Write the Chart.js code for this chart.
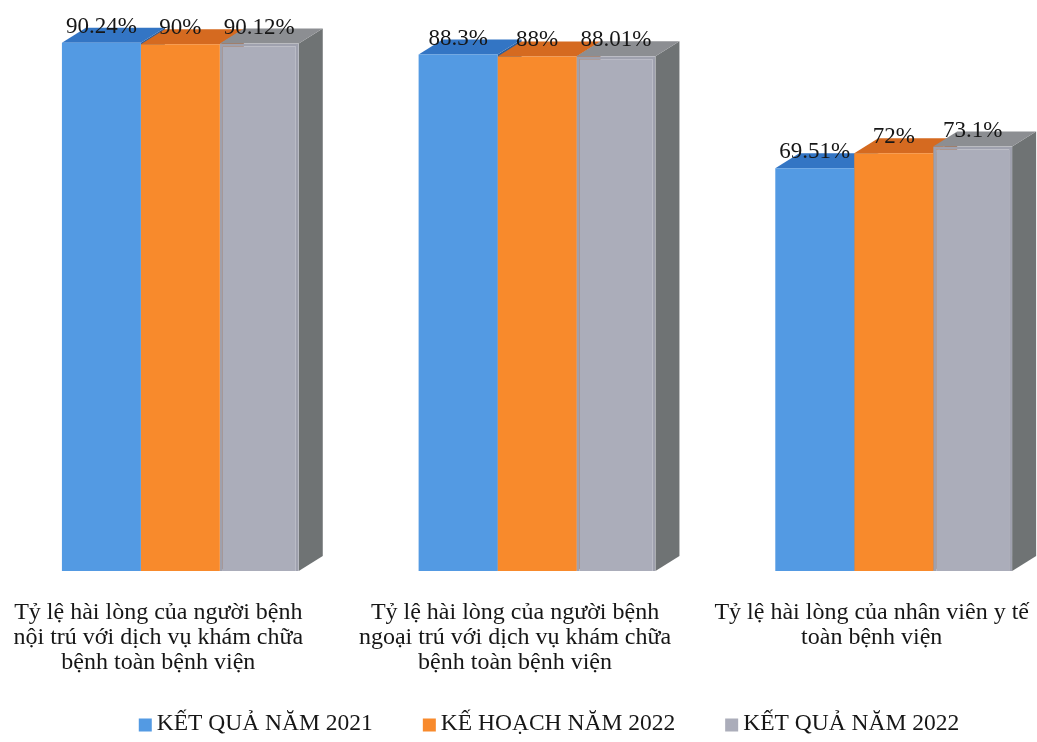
<!DOCTYPE html>
<html>
<head>
<meta charset="utf-8">
<title>Tỷ lệ hài lòng</title>
<script src="https://cdn.jsdelivr.net/npm/chart.js@4.4.1/dist/chart.umd.min.js"></script>
<style>
  html, body { margin: 0; padding: 0; background: #ffffff; overflow: hidden; }
  #wrap { width: 1037px; height: 742px; overflow: hidden; }
  #chart { display: block; }
</style>
</head>
<body>
<div id="wrap"><canvas id="chart" width="1080" height="742"></canvas></div>
<script>
// Category labels (one array of lines per group)
const categories = [
  ['Tỷ lệ hài lòng của người bệnh', 'nội trú với dịch vụ khám chữa', 'bệnh toàn bệnh viện'],
  ['Tỷ lệ hài lòng của người bệnh', 'ngoại trú với dịch vụ khám chữa', 'bệnh toàn bệnh viện'],
  ['Tỷ lệ hài lòng của nhân viên y tế', 'toàn bệnh viện']
];
const seriesNames = ['KẾT QUẢ NĂM 2021', 'KẾ HOẠCH NĂM 2022', 'KẾT QUẢ NĂM 2022'];
const ketQua2021 = [90.24, 88.3, 69.51];
const keHoach2022 = [90, 88, 72];
const ketQua2022 = [90.12, 88.01, 73.1];

// value axis floor / ceiling (axis itself is hidden)
const axisFloor = 3;
const axisCeil = 95;

const FONT = '"Liberation Serif", "Times New Roman", serif';
const TEXT = '#161616';
const frontColors = ['#539ae3', '#f88a2c', '#abadba'];
const topColors   = ['#3375c4', '#d56a20', '#8c8e92'];
const sideColors  = ['#2a5f9e', '#b75a1a', '#6f7374'];
const DX = 24, DY = 15;

function barGeom(el) {
  const p = el.getProps(['x', 'y', 'width', 'base'], true);
  return { l: p.x - p.width / 2, r: p.x + p.width / 2, x: p.x, y: p.y, base: p.base };
}

// Extruded look: side walls first, then top faces; the library paints the fronts afterwards
const extrude = {
  id: 'extrude',
  beforeDatasetsDraw(chart) {
    const ctx = chart.ctx;
    const metas = chart.data.datasets.map((d, i) => chart.getDatasetMeta(i));
    ctx.save();
    metas.forEach((meta, i) => {
      meta.data.forEach(el => {
        const g = barGeom(el);
        ctx.fillStyle = sideColors[i];
        ctx.beginPath();
        ctx.moveTo(g.r, g.y);
        ctx.lineTo(g.r + DX, g.y - DY);
        ctx.lineTo(g.r + DX, g.base - DY);
        ctx.lineTo(g.r, g.base);
        ctx.closePath();
        ctx.fill();
      });
    });
    metas.forEach((meta, i) => {
      meta.data.forEach(el => {
        const g = barGeom(el);
        ctx.fillStyle = topColors[i];
        ctx.beginPath();
        ctx.moveTo(g.l, g.y);
        ctx.lineTo(g.r, g.y);
        ctx.lineTo(g.r + DX, g.y - DY);
        ctx.lineTo(g.l + DX, g.y - DY);
        ctx.closePath();
        ctx.fill();
      });
    });
    ctx.restore();
  },
  afterDatasetsDraw(chart) {
    // value labels above each bar
    const ctx = chart.ctx;
    ctx.save();
    ctx.font = '23px ' + FONT;
    ctx.fillStyle = TEXT;
    ctx.textAlign = 'center';
    ctx.textBaseline = 'alphabetic';
    chart.data.datasets.forEach((ds, i) => {
      chart.getDatasetMeta(i).data.forEach((el, j) => {
        const g = barGeom(el);
        ctx.fillText(ds.data[j] + '%', g.x, g.y - 10);
      });
    });
    ctx.restore();
  }
};

// Legend row along the bottom: small square swatch + series name
const bottomLegend = {
  id: 'bottomLegend',
  afterDraw(chart, args, opts) {
    const ctx = chart.ctx;
    const sw = 13, gapText = 5, gapItem = 50;
    ctx.save();
    ctx.font = opts.fontSize + 'px ' + FONT;
    const items = chart.data.datasets.map(ds => ({
      text: ds.label, color: ds.backgroundColor, w: ctx.measureText(ds.label).width
    }));
    const total = items.reduce((s, it) => s + sw + gapText + it.w, 0) + gapItem * (items.length - 1);
    let x = opts.centerX - total / 2;
    const y = opts.y;
    ctx.textBaseline = 'middle';
    ctx.textAlign = 'left';
    items.forEach(it => {
      ctx.fillStyle = it.color;
      ctx.fillRect(x, y - sw / 2 + 1, sw, sw);
      ctx.fillStyle = TEXT;
      ctx.fillText(it.text, x + sw + gapText, y);
      x += sw + gapText + it.w + gapItem;
    });
    ctx.restore();
  }
};

const series = [ketQua2021, keHoach2022, ketQua2022];

new Chart(document.getElementById('chart'), {
  type: 'bar',
  data: {
    labels: categories,
    datasets: series.map((values, i) => ({
      label: seriesNames[i],
      data: values,
      base: axisFloor,
      backgroundColor: frontColors[i],
      borderColor: i === 2 ? '#9fa1ae' : frontColors[i],
      borderWidth: i === 2 ? 3 : 0,
      categoryPercentage: 0.664,
      barPercentage: 1.0
    }))
  },
  options: {
    responsive: false,
    animation: false,
    layout: { padding: { left: 2, right: 0, top: 14, bottom: 38 } },
    plugins: {
      legend: { display: false },
      tooltip: { enabled: false },
      bottomLegend: { fontSize: 23.5, centerX: 549, y: 724 }
    },
    scales: {
      x: {
        grid: { display: false, drawTicks: false },
        border: { display: false },
        ticks: {
          maxRotation: 0,
          autoSkip: false,
          color: TEXT,
          font: { family: FONT, size: 24, lineHeight: 1.04 },
          padding: 29,
          labelOffset: -22
        }
      },
      y: { display: false, min: axisFloor, max: axisCeil }
    }
  },
  plugins: [extrude, bottomLegend]
});
</script>
</body>
</html>
